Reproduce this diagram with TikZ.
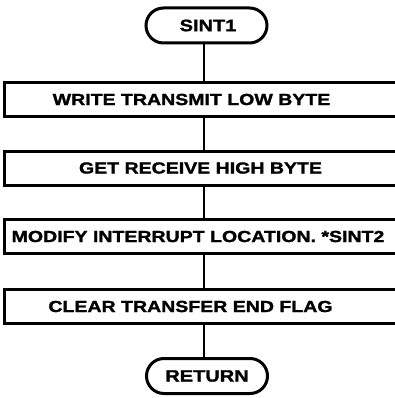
\documentclass[tikz,border=0pt]{standalone}
\usepackage{fontspec}
\newfontfamily\chartfont[FakeStretch=1.22,FakeBold=1.6]{Liberation Sans}
\usetikzlibrary{shapes.misc}

\tikzset{
  termbox/.style={draw, line width=3pt, rounded rectangle, minimum width=121pt,
    minimum height=35pt, inner sep=0pt, font=\chartfont\bfseries\fontsize{16.4}{18}\selectfont},
  procbox/.style={draw, line width=3pt, rectangle, minimum width=400pt,
    minimum height=34pt, inner sep=0pt, font=\chartfont\bfseries\fontsize{16}{18}\selectfont},
  flowline/.style={line width=2pt}
}

\begin{document}
\begin{tikzpicture}[x=1pt,y=-1pt]
  \useasboundingbox (0,0) rectangle (395,398);
  \node[termbox] (sint) at (206.5,25.5) {SINT1\hspace*{-3pt}};
  \node[procbox] (write) at (204,99.5) {WRITE TRANSMIT LOW BYTE\hspace*{25pt}};
  \node[procbox] (get) at (204,168) {GET RECEIVE HIGH BYTE\hspace*{7pt}};
  \node[procbox] (modify) at (204,236.5) {MODIFY INTERRUPT LOCATION. *SINT2\hspace*{12pt}};
  \node[procbox] (clear) at (204,306.5) {CLEAR TRANSFER END FLAG\hspace*{27pt}};
  \node[termbox] (ret) at (207,376) {RETURN};
  % connectors
  \draw[flowline] (write.north) -- (write.north |- sint.south);
  \draw[flowline] (write) -- (get);
  \draw[flowline] (get) -- (modify);
  \draw[flowline] (modify) -- (clear);
  \draw[flowline] (clear.south) -- (clear.south |- ret.north);
\end{tikzpicture}
\end{document}
